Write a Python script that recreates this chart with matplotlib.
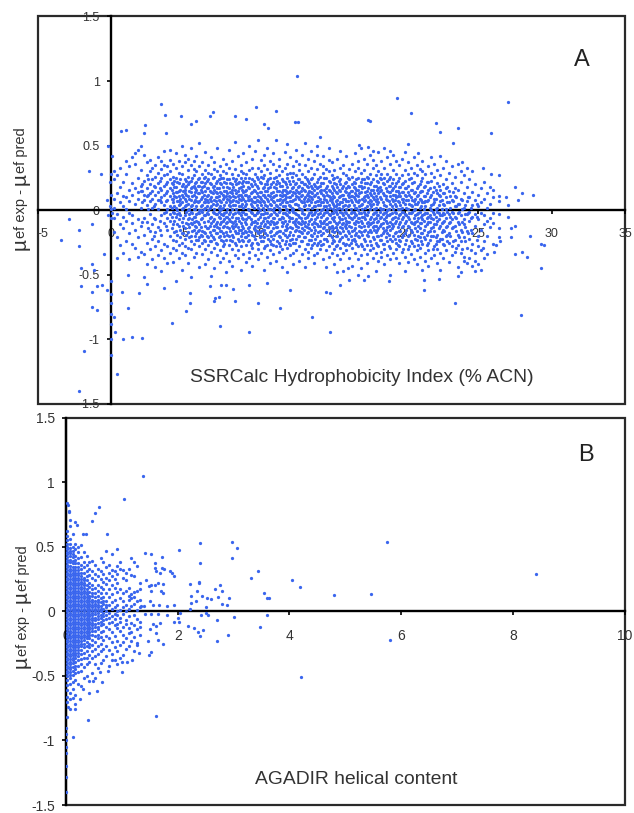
import matplotlib
matplotlib.use('Agg')
import matplotlib.pyplot as plt
from matplotlib.patches import Rectangle

plt.rcParams['font.family'] = ['Liberation Sans', 'DejaVu Sans']

# isolated points
a_sparse_x = [12.68, 3.37, 3.65, 4.75, 5.4, 5.75, 6.7, 6.9, 8.4, 9.2, 9.85, 10.4, 10.7, 11.2, 12.5, 12.7, 0.67, 1.0, 2.3, 2.2, 3.7, -1.5, -0.25, -0.7,
              -3.45, -2.9, -2.2, -1.35, -2.2, -0.5, -2.1, -1.3, -1.15, -2.1, -1.35, -1.0, -0.65, -0.3, -1.3, -1.0, -1.85, -2.2,
              0.0, 0.0, 0.0, 0.0, 0.0, 0.0, 0.0, 0.2, 0.35, 0.25, 0.8, 1.4, 2.1, 0.75, 1.15, 1.1, 1.9, 4.1, 7.4, 9.4, 11.5, 12.15, 10.0, 10.6, 13.7, 8.45, 7.0, 7.05, 7.3,
              5.35, 5.35, 5.1, 6.7, 7.5, 7.8, 8.3, 9.4, 3.6, 4.4, 2.4, 2.2,
              19.43, 27.0, 20.4, 17.5, 17.65, 22.1, 23.6, 22.4, 25.9, 23.3, 20.2, 16.85, 17.5, 17.8, 15.6, 19.0, 20.9, 22.4, 23.9, 25.3, 25.9, 26.4, 27.5, 28.0, 28.7, 27.7, 26.9, 26.4,
              29.3, 27.9, 23.4, 14.9, 14.6, 14.9, 15.6, 16.2, 17.2, 21.3, 18.9, 17.5, 16.8, 15.4, 16.1, 21.3, 22.3, 23.6, 24.8, 25.2, 23.8, 29.3, 29.5, 28.5, 28.3, 28.0, 27.5, 27.2, 27.5, 27.2, 26.4, 26.4, 26.5, 26.2, 26.1, 25.4, 25.3,
              -0.1, 0.0, 0.05, -0.2, 0.0, -0.05, -0.1, 0.0, 0.05, -0.3]
a_sparse_y = [1.04, 0.82, 0.74, 0.73, 0.67, 0.69, 0.73, 0.76, 0.73, 0.71, 0.80, 0.67, 0.64, 0.77, 0.68, 0.68, 0.61, 0.62, 0.66, 0.60, 0.60, 0.30, 0.50, 0.28,
              -0.23, -0.07, -0.15, -0.11, -0.28, -0.34, -0.45, -0.42, -0.46, -0.59, -0.63, -0.59, -0.58, -0.62, -0.75, -0.77, -1.09, -1.40,
              -0.55, -0.65, -0.72, -0.80, -0.88, -1.0, -1.12, -0.83, -1.27, -0.94, -1.0, -0.98, -0.99, -0.63, -0.76, -0.5, -0.64, -0.87, -0.9, -0.94, -0.76, -0.62, -0.72, -0.56, -0.83, -0.7, -0.7, -0.68, -0.67,
              -0.64, -0.72, -0.78, -0.59, -0.58, -0.58, -0.61, -0.58, -0.6, -0.55, -0.57, -0.52,
              0.87, 0.835, 0.75, 0.70, 0.69, 0.675, 0.64, 0.605, 0.6, 0.52, 0.51, 0.505, 0.49, 0.46, 0.46, 0.46, 0.44, 0.42, 0.37, 0.33, 0.28, 0.27, 0.18, 0.13, 0.12, 0.08, 0.1, 0.11,
              -0.45, -0.81, -0.72, -0.94, -0.63, -0.64, -0.58, -0.54, -0.54, -0.62, -0.55, -0.51, -0.5, -0.48, -0.45, -0.54, -0.53, -0.51, -0.47, -0.46, -0.48, -0.26, -0.27, -0.2, -0.36, -0.32, -0.34, -0.21, -0.12, -0.14, -0.14, -0.21, -0.24, -0.27, -0.32, -0.37, -0.29,
              0.03, 0.01, -0.02, -0.04, -0.06, 0.12, 0.22, 0.28, 0.42, 0.08]

# panel A cloud: x -> y readings in hundredths
a_cloud = {
    0.2: [24, 9, -6, -17, 30, 2], 0.4: [13, -3, -21, 27, -37], 0.6: [18, 6, -11, -27, 33], 0.8: [22, -5, -14, 11, 3, -33], 1.0: [28, 10, -8, -24, 38, 1],
    1.2: [16, -2, -18, 34, 7, -38], 1.4: [41, 21, 12, -10, -26, -4], 1.6: [36, 5, -15, -29, 17, 44], 1.8: [9, 25, -7, -21, 47, -36, 14], 2.0: [31, 15, 2, -12, -32, 50, 19],
    2.2: [43, 23, 8, -6, -19, -34, 12], 2.4: [37, 17, 4, -9, -25, -42, 27, 11], 2.6: [30, 13, 20, -3, -16, -30, 39, 7], 2.8: [24, 9, -11, -22, -38, 33, 2, 15], 3.0: [35, 18, 26, 5, -7, -17, -28, -44, 12],
    3.2: [41, 29, 14, 21, 1, -13, -24, -35, 8], 3.4: [16, 32, 6, -4, -19, -31, 25, 10, 38, -47], 3.6: [27, 12, 19, -2, -10, -26, -37, 35, 4, 46], 3.8: [22, 34, 8, 15, -6, -15, -28, -41, 1, 28],
    4.0: [30, 17, 24, 3, -8, -20, -33, 39, 11, -3, 47], 4.2: [13, 26, 6, 20, -11, -23, -29, 36, -1, -40, 9], 4.4: [33, 18, 10, 25, -5, -16, -31, 2, 44, -24, 14],
    4.6: [21, 7, 15, 29, -2, -12, -27, -37, 38, 11, -7, 4], 4.8: [28, 12, 19, 34, 1, -9, -18, -33, 6, -25, 50, -46], 5.0: [16, 24, 9, 37, -4, -14, -22, -35, 3, 13, -28, 43, 18],
    5.2: [31, 20, 5, 11, 26, -7, -17, -29, -41, 0, -11, 40], 5.4: [14, 23, 8, 35, -1, -10, -20, -30, 17, 3, -24, 48, -52], 5.6: [27, 19, 6, 12, 38, -5, -15, -26, -36, 1, -9, 32],
    5.8: [22, 10, 16, 30, 3, -3, -13, -23, -33, -8, 42, -18, 7], 6.0: [34, 25, 13, 7, 19, -2, -11, -21, -28, -44, 0, -15, 52], 6.2: [18, 28, 4, 10, 37, -6, -16, -25, -34, 14, -1, -20, 22],
    6.4: [31, 21, 9, 15, 2, -4, -12, -18, -30, -42, -24, 45, 6, 26], 6.6: [12, 24, 6, 35, 17, -8, -14, -27, -38, 0, -21, -3, 29], 6.8: [20, 10, 28, 3, 14, -5, -10, -19, -32, -51, -24, 41, 7],
    7.0: [26, 16, 8, 37, 1, -7, -15, -22, -29, -45, -2, -12, 19, 32], 7.2: [13, 23, 5, 30, -3, -9, -18, -26, -35, 10, 17, -13, 48], 7.4: [34, 21, 7, 14, 0, -6, -11, -20, -31, -40, -16, 27, 3],
    7.6: [18, 9, 25, 40, 2, -4, -13, -24, -37, -18, -8, 12, 30, -28], 7.8: [29, 15, 6, 21, -1, -10, -17, -23, -33, -48, 11, 36, -5], 8.0: [11, 24, 4, 17, 33, -3, -7, -14, -27, -39, -20, 8, 47],
    8.2: [20, 13, 28, 1, 7, -5, -12, -19, -30, -43, -24, 38, -9, 16], 8.4: [32, 10, 23, 16, -2, -8, -16, -25, -35, 4, -12, 53], 8.6: [15, 6, 27, 21, 42, -1, -6, -13, -22, -31, -18, -37, 11],
    8.8: [25, 12, 3, 35, 18, -4, -10, -20, -28, -46, 8, -15, 30], 9.0: [9, 19, 29, 14, 2, -7, -14, -24, -34, -18, 44, -1, 23], 9.2: [22, 5, 12, 37, -3, -11, -17, -27, -40, -21, 16, 28, -7],
    9.4: [31, 17, 8, 25, 0, -5, -13, -23, -32, 50, 11, -16, -37], 9.6: [14, 24, 3, 19, 40, -2, -9, -19, -29, -43, 7, -25, 33], 9.8: [28, 10, 20, 6, -4, -12, -15, -22, -35, 46, 15, -8],
    10.0: [17, 33, 11, 2, 24, -1, -7, -18, -26, -38, -13, 7, 54, -30], 10.2: [21, 9, 14, 30, -3, -10, -16, -24, -33, 4, -20, 39, 26], 10.4: [12, 27, 6, 18, 43, -6, -12, -21, -29, -46, 0, -15, 35],
    10.6: [23, 15, 3, 9, 32, -2, -8, -19, -27, -36, -13, 20, 48], 10.8: [29, 11, 18, 5, -4, -11, -17, -24, -41, 38, 1, -31, 25], 11.0: [14, 22, 7, 36, 0, -6, -14, -22, -34, -9, 10, 44, -27],
    11.2: [26, 17, 4, 12, 31, -3, -10, -18, -28, -39, 20, -13, 54], 11.4: [8, 21, 15, 27, -1, -7, -16, -25, -32, 2, 40, -20, 34], 11.6: [19, 11, 30, 6, 24, -5, -12, -23, -30, -44, -9, 14],
    11.8: [33, 16, 3, 9, 22, -2, -8, -15, -26, -37, 45, 12, -19], 12.0: [25, 13, 6, 36, 18, -4, -11, -21, -29, -14, 0, 28, 51, -48], 12.2: [10, 20, 29, 3, 15, -6, -13, -17, -27, -35, 41, -23, 7],
    12.4: [23, 8, 14, 34, -1, -9, -19, -25, -33, 1, 18, -42, 29], 12.6: [16, 27, 5, 11, 38, -3, -7, -15, -22, -31, 47, -12, 21], 12.8: [31, 19, 9, 2, 24, -5, -10, -20, -28, -39, 13, -16, 36],
    13.0: [12, 22, 6, 28, 43, -2, -8, -14, -24, -34, 17, -18, 0], 13.2: [26, 15, 4, 10, 35, -6, -12, -21, -30, -44, 20, -9, 52], 13.4: [18, 9, 30, 1, 13, -4, -11, -17, -26, -37, 40, 23, -32],
    13.6: [24, 6, 14, 33, -1, -7, -15, -23, -29, 46, 10, -19, 19], 13.8: [11, 28, 20, 3, -3, -9, -13, -25, -35, 38, 16, -41, -18], 14.0: [22, 32, 7, 13, 0, -5, -11, -20, -27, -33, 50, 17, 43],
    14.2: [15, 26, 9, 4, 36, -2, -8, -16, -24, -30, 19, -12, 57], 14.4: [29, 12, 21, 6, -4, -10, -18, -26, -38, 1, 42, -14, 34], 14.6: [17, 8, 25, 14, -1, -7, -15, -22, -31, -44, 32, 3, -11],
    14.8: [23, 11, 4, 30, 39, -3, -9, -19, -28, -36, 16, -13, 48], 15.0: [13, 27, 19, 6, -2, -6, -12, -21, -33, -25, 9, 37, -16], 15.2: [21, 10, 3, 16, 31, -5, -8, -17, -24, -30, -42, 25, 0],
    15.4: [8, 18, 26, 13, 1, -3, -11, -15, -27, -35, 40, -20, 5], 15.6: [24, 15, 6, 33, -1, -7, -13, -22, -29, 11, -18, 20, -38], 15.8: [12, 29, 19, 3, 9, -4, -10, -16, -25, -33, 35, -47],
    16.0: [22, 7, 14, 27, 1, -2, -8, -14, -20, -31, -26, 42, 17, -11], 16.2: [10, 18, 32, 4, 24, -5, -12, -18, -27, -37, -9, 13], 16.4: [26, 15, 6, 36, -1, -7, -16, -23, -29, 20, 11, -43],
    16.6: [9, 21, 13, 30, 2, -3, -11, -14, -24, -33, 44, -19, 17], 16.8: [25, 6, 16, 38, 0, -6, -9, -20, -28, -38, 11, 33], 17.0: [14, 22, 4, 29, -2, -8, -13, -17, -26, -35, 19, -45, 48],
    17.2: [31, 10, 18, 7, -1, -5, -12, -22, -30, 24, 40, -16], 17.4: [12, 26, 3, 15, 36, -4, -10, -19, -27, -34, -41, 21], 17.6: [20, 8, 28, 13, 1, -7, -15, -24, -31, 43, -11, 5],
    17.8: [16, 24, 5, 33, -3, -9, -13, -21, -29, -37, 10, 39], 18.0: [27, 11, 19, 2, -1, -6, -17, -25, -33, -47, 35, -12, 7], 18.2: [13, 22, 6, 30, -4, -8, -14, -20, -28, -39, 17, 45],
    18.4: [9, 24, 16, 38, 1, -5, -11, -19, -32, -23, 28, -36], 18.6: [20, 12, 4, 33, -2, -7, -16, -26, -30, 25, 48, -42], 18.8: [15, 28, 8, 23, 0, -4, -10, -18, -24, -35, 41, -13],
    19.0: [11, 19, 5, 36, -3, -9, -15, -22, -29, -38, 26, 14, -50], 19.2: [24, 7, 17, 31, 1, -6, -12, -20, -33, 12, 43], 19.4: [10, 21, 3, 28, -2, -8, -17, -25, -37, 15, 38, -30],
    19.6: [18, 6, 13, 35, -4, -11, -16, -23, -28, 25, -41], 19.8: [27, 9, 20, 2, -1, -7, -13, -21, -32, 40, 14], 20.0: [12, 23, 5, 31, -3, -10, -18, -26, -36, 17, 45, -47],
    20.2: [19, 8, 28, 1, -5, -12, -20, -30, 14, 37, -40], 20.4: [10, 25, 4, 16, -2, -9, -15, -24, -34, 33], 20.6: [22, 7, 13, 29, 0, -6, -11, -19, -28, -38, 41], 20.8: [17, 5, 27, -3, -8, -16, -23, -31, 11, -42, 35],
    21.0: [9, 20, 32, 2, -1, -10, -14, -21, -29, 14, -36], 21.2: [25, 6, 15, 38, -4, -7, -18, -26, -46, 30], 21.4: [11, 19, 3, 28, -2, -12, -22, -33, 7, -39], 21.6: [16, 8, 34, -5, -9, -17, -25, -31, 22, -43],
    21.8: [23, 4, 12, 29, 0, -6, -14, -20, -37, 41], 22.0: [18, 9, 26, -3, -11, -16, -28, -35, 6, 36], 22.2: [13, 21, 2, -1, -8, -19, -24, -41, 31, -30], 22.4: [7, 16, 27, -4, -12, -22, -33, 11, -46],
    22.6: [20, 5, 33, -2, -9, -15, -26, -37, 13], 22.8: [10, 24, 1, -6, -13, -20, -31, 17, 38], 23.0: [15, 6, 29, -3, -10, -18, -25, -40], 23.2: [21, 8, -1, -7, -14, -28, -35, 34],
    23.4: [11, 26, 3, -5, -12, -23, -32, 17], 23.6: [16, 5, 36, -2, -9, -19, -27, -44], 23.8: [22, 9, -4, -15, -24, -33, 30], 24.0: [13, 2, 27, -7, -11, -21, -36, -39],
    24.2: [7, 18, -3, -16, -29, -41, 33], 24.4: [24, 10, -1, -8, -22, -37], 24.6: [14, 4, -5, -18, -26, -43, 30], 24.8: [20, 8, -3, -12, -33, -39], 25.0: [12, 3, -7, -20, -28, -42],
    25.2: [17, 6, -2, -15, -31], 25.4: [9, -4, -11, -24, 22], 25.6: [13, 2, -8, -20, -34], 25.8: [5, 18, -6, -13], 26.0: [10, -2, 16, -10, -26], 26.4: [7, -3], 27.0: [-5, 4],
}

# panel A dense core, columns between those above
a_core = {
    2.1: [20, 6, -9, 15], 2.5: [12, 1, -14, 24], 2.9: [19, 3, -6, -20], 3.3: [17, 8, -8, 23, -15], 3.7: [13, -1, 20, 7, -12], 4.1: [21, 9, 2, -5, -14, 16],
    4.3: [18, 11, 3, -8, -17, 23, -2], 4.5: [7, 14, 22, -3, -11, -19, 0], 4.7: [16, 5, 24, 9, -4, -15, -21], 4.9: [10, 20, 2, -6, -12, 15, -18],
    5.1: [19, 7, 12, -1, -10, -19, 23, 4], 5.3: [9, 15, 22, -3, -13, -6, -21, 1], 5.5: [18, 11, 4, -7, -16, 25, -11, -2], 5.7: [14, 8, 21, 1, -12, -20, -5, 17], 5.9: [6, 13, 19, -2, -9, -16, 24, -23],
    6.1: [16, 9, 22, 3, -7, -13, -19, 0], 6.3: [12, 6, 19, -4, -9, -17, 25, -23, 1], 6.5: [17, 11, 3, -2, -14, -20, 23, 8], 6.7: [9, 15, 21, 2, -6, -12, -17, -24], 6.9: [13, 5, 18, 25, -1, -8, -15, -21],
    7.1: [10, 21, 4, -3, -11, -18, -25, 14, 7], 7.3: [17, 8, 2, -5, -14, -21, 24, 11, -1], 7.5: [6, 13, 20, -3, -9, -16, -23, 1, 25], 7.7: [15, 4, 22, -2, -7, -12, -20, 10, -26], 7.9: [9, 18, 1, 24, -5, -13, -19, -9, 13],
    8.1: [14, 6, 21, -1, -8, -16, -23, 3, 10], 8.3: [4, 18, 11, 25, -3, -10, -14, -21, 8], 8.5: [13, 7, 20, 1, -6, -11, -18, -27, 24], 8.7: [9, 17, 3, -2, -8, -15, -24, 22, 12], 8.9: [5, 16, 21, -1, -6, -12, -18, -23, 10],
    9.1: [12, 3, 25, 7, -3, -9, -16, -21, 15], 9.3: [18, 8, 1, -5, -14, -24, -19, 10, 22], 9.5: [5, 13, 20, -1, -7, -11, -17, -27, 9], 9.7: [16, 10, 2, 23, -4, -14, -20, 6, -9], 9.9: [8, 19, 4, -2, -10, -16, -25, 13, 26],
    10.1: [14, 6, 22, 0, -5, -12, -21, -17, 10], 10.3: [7, 17, 2, 12, -8, -15, -24, -3, 25], 10.5: [10, 20, 4, -2, -11, -18, -6, -28, 15], 10.7: [17, 7, 1, 24, -5, -13, -22, 12, -9], 10.9: [4, 13, 20, -3, -8, -16, -26, 9, -20],
    11.1: [11, 18, 2, -1, -11, -19, -6, 25, 6], 11.3: [15, 8, 23, -4, -9, -13, -24, 3, -17], 11.5: [5, 12, 19, 0, -7, -16, -21, 9, -28], 11.7: [16, 3, 23, -2, -10, -18, 8, -6, 12], 11.9: [10, 6, 20, -3, -12, -15, -24, 1, 15],
    12.1: [14, 4, 23, -1, -8, -19, -5, 10, -26], 12.3: [7, 17, 12, 0, -6, -14, -22, 2, 26], 12.5: [13, 20, 5, -2, -11, -16, -8, -25, 9], 12.7: [4, 10, 18, -4, -9, -13, -20, 24, 14], 12.9: [7, 15, 22, 1, -6, -17, -24, -11, 11],
    13.1: [16, 9, 3, -3, -10, -21, -15, 20, 6], 13.3: [12, 19, 1, -5, -13, -18, -26, 7, 24], 13.5: [4, 15, 8, 21, -2, -8, -14, -23, 11], 13.7: [17, 2, 9, -4, -11, -20, -27, 13, 25], 13.9: [6, 12, 19, -1, -7, -15, -22, 3, -10],
    14.1: [10, 18, 4, -3, -12, -17, -25, 24, 7], 14.3: [13, 6, 21, 0, -5, -10, -19, -27, 16], 14.5: [3, 9, 16, 25, -2, -8, -13, -22, 11], 14.7: [19, 12, 6, -1, -6, -16, -24, 1, -11], 14.9: [8, 15, 2, 22, -4, -9, -19, -14, 10],
    15.1: [5, 11, 17, -2, -7, -14, -23, 24, 1], 15.3: [14, 7, 20, -1, -10, -13, -20, -28, 3], 15.5: [10, 2, 16, 23, -5, -9, -17, -24, 5], 15.7: [17, 6, 12, -2, -7, -11, -21, 1, -14], 15.9: [4, 9, 15, 21, -1, -12, -19, -27, -6],
    16.1: [12, 3, 19, 7, -4, -9, -16, -22, 25], 16.3: [15, 8, 1, -2, -6, -13, -20, -25, 11], 16.5: [4, 10, 22, -1, -10, -15, -5, -22, 18], 16.7: [7, 16, 2, -4, -8, -18, -26, 12, 24], 16.9: [13, 19, 3, -2, -12, -16, -21, 8, -6],
    17.1: [9, 5, 17, 24, -5, -10, -19, -28, 1], 17.3: [14, 2, 21, -3, -7, -15, -24, 8, 11], 17.5: [6, 17, 10, -1, -12, -20, -9, 25, -17], 17.7: [12, 3, 22, -5, -10, -17, -27, 7, 16], 17.9: [9, 19, 1, -2, -7, -12, -22, 13, -15],
    18.1: [5, 16, 23, -4, -9, -15, -20, 9, -27], 18.3: [10, 2, 18, -1, -6, -12, -23, 15, 25], 18.5: [13, 6, 21, -3, -10, -14, -26, 1, -18], 18.7: [3, 9, 17, -1, -8, -15, -21, 11, -5], 18.9: [7, 14, 24, -4, -12, -19, -28, 1, 19],
    19.1: [9, 3, 16, -2, -7, -14, -24, 21, -11], 19.3: [12, 5, -1, -5, -10, -18, -22, 19, 8], 19.5: [7, 15, 23, 1, -6, -13, -27, -20, 11], 19.7: [4, 11, 18, -3, -9, -16, -24, 1], 19.9: [14, 6, 21, -1, -5, -12, -19, -30, 9],
    20.1: [8, 2, 17, -4, -8, -15, -23, 11], 20.3: [12, 5, 24, -2, -7, -13, -19, -28], 20.5: [3, 16, 8, -1, -10, -17, -25, 21], 20.7: [9, 14, 1, -4, -9, -14, -22, 5], 20.9: [6, 12, 19, -2, -6, -12, -20, -27],
    21.1: [3, 15, 8, -5, -10, -18, -24, 23], 21.3: [11, 1, 18, -3, -8, -15, -21, 6], 21.5: [7, 13, 22, -2, -6, -11, -19, -27], 21.7: [2, 10, 17, -4, -9, -16, -23], 21.9: [5, 14, -1, -7, -13, -20, -30],
    22.1: [9, 1, 16, -5, -11, -21, -26], 22.3: [4, 12, -2, -7, -14, -24, 19], 22.5: [8, 1, -4, -10, -17, -22], 22.7: [13, 4, -3, -8, -16, -27], 22.9: [6, 18, -1, -12, -19, -24],
    23.1: [2, 11, -5, -9, -20], 23.3: [7, -2, -13, -24, 14], 23.5: [3, 10, -6, -16, -29], 23.7: [5, -1, -11, -21], 23.9: [1, 8, -9, -17, -30],
    24.1: [4, -3, -13, -24], 24.3: [10, -2, -18], 24.5: [2, -6, -15, -31], 24.9: [5, -5, -23],
}

# isolated points
b_sparse_x = [1.37, 1.03, 0.585, 0.52, 0.47, 0.73, 0.3, 0.36, 0.19, 0.16, 0.91, 1.42, 1.52, 1.72, 2.02, 2.4, 2.98, 3.06, 2.97, 2.4, 3.32, 3.43, 3.55, 3.6, 3.63, 4.04, 4.19, 3.6, 3.48, 3.01, 2.9, 2.7, 4.2, 1.62, 0.4, 0.12,
              2.22, 2.39, 2.39, 2.35, 2.44, 2.23, 2.23, 2.33, 2.22, 2.5, 2.53, 2.59, 2.67, 2.75, 2.8, 2.72, 2.91, 2.79, 2.88, 2.42, 2.51, 2.55, 2.7, 1.94, 2.01, 2.18, 2.29, 2.46, 2.37, 2.4, 1.93, 2.04, 2.02,
              1.71, 1.6, 1.6, 1.62, 1.76, 1.87, 1.9, 1.93, 1.68, 1.43, 1.49, 1.53, 1.59, 1.65, 1.73, 1.52, 1.7, 1.73, 1.5, 1.55, 1.67, 1.8, 1.39, 1.35,
              1.41, 1.53, 1.65, 1.8, 1.68, 1.56, 1.62, 1.5, 1.62, 1.74, 1.65, 1.46, 1.28, 1.52, 1.49, 1.31, 1.19, 1.01, 1.09, 1.0, 0.92, 0.83, 0.76, 0.61, 0.64, 0.55, 0.49, 0.41, 0.31, 0.25, 0.16, 0.16,
              4.79, 5.46, 5.75, 5.81, 8.42,
              0.0, 0.0, 0.0, 0.0, 0.0, 0.0, 0.0, 0.0, 0.02, 0.03, 0.05, 0.06, 0.02, 0.04]
b_sparse_y = [1.05, 0.87, 0.81, 0.76, 0.695, 0.6, 0.6, 0.6, 0.67, 0.69, 0.485, 0.45, 0.44, 0.42, 0.475, 0.53, 0.535, 0.49, 0.41, 0.375, 0.255, 0.315, 0.14, 0.1, 0.1, 0.24, 0.19, -0.03, -0.125, -0.045, -0.185, -0.23, -0.51, -0.81, -0.84, -0.975,
              0.21, 0.23, 0.215, 0.16, 0.12, 0.115, 0.065, 0.08, 0.02, 0.035, 0.1, 0.095, 0.17, 0.205, 0.155, 0.11, 0.1, 0.06, 0.05, -0.03, -0.015, -0.03, -0.065, -0.08, -0.05, -0.115, -0.13, -0.147, -0.16, -0.19, 0.05, -0.01, -0.08,
              0.335, 0.37, 0.335, 0.315, 0.33, 0.315, 0.3, 0.27, 0.3, 0.245, 0.195, 0.2, 0.2, 0.22, 0.21, 0.155, 0.155, 0.14, 0.08, 0.05, 0.045, 0.04, 0.04, 0.04,
              -0.025, -0.025, -0.025, -0.03, -0.09, -0.1, -0.115, -0.14, -0.17, -0.25, -0.22, -0.23, -0.245, -0.315, -0.335, -0.32, -0.375, -0.47, -0.39, -0.39, -0.41, -0.375, -0.46, -0.47, -0.55, -0.62, -0.54, -0.63, -0.605, -0.68, -0.76, -0.72,
              0.125, 0.135, 0.54, -0.22, 0.29,
              -0.9, -0.95, -1.0, -1.05, -1.1, -1.2, -1.28, -1.4, 0.84, 0.82, 0.77, 0.78, -0.82, -0.74]

# panel B wedge: x -> y readings in hundredths
b_cloud = {
    0.02: [62, 58, 55, 52, 50, 48, 46, 44, 42, 40, 38, 36, 34, 32, 30, 28, 26, 24, 22, 20, 18, 16, 14, 12, 10, 8, 6, 4, 2, 0, -2, -4, -6, -8, -10, -12, -14, -16, -18, -20, -22, -24, -26, -28, -30, -32, -34, -36, -38, -40, -42, -44, -46, -48, -50, -53, -57, -61, -66, -70],
    0.07: [71, 66, 56, 52, 49, 47, 45, 43, 40, 38, 35, 33, 31, 29, 27, 25, 23, 21, 19, 17, 15, 13, 11, 9, 7, 5, 3, 1, -1, -3, -5, -7, -9, -11, -13, -15, -17, -19, -21, -23, -25, -27, -29, -31, -33, -35, -37, -39, -41, -43, -45, -47, -49, -52, -56, -63, -68, -76],
    0.12: [60, 50, 47, 44, 42, 39, 37, 34, 32, 30, 28, 26, 24, 22, 20, 18, 16, 14, 12, 10, 8, 6, 4, 2, 0, -2, -4, -6, -8, -10, -12, -14, -16, -18, -20, -22, -24, -26, -28, -30, -32, -34, -36, -38, -40, -43, -46, -49, -55, -60, -67],
    0.17: [52, 48, 43, 40, 37, 34, 32, 30, 28, 26, 24, 22, 20, 18, 16, 14, 12, 10, 8, 6, 4, 2, 0, -2, -4, -6, -8, -10, -12, -14, -16, -18, -20, -22, -24, -26, -28, -30, -32, -34, -36, -39, -42, -45, -48, -53, -65],
    0.22: [50, 46, 41, 37, 34, 32, 30, 28, 26, 24, 22, 20, 18, 16, 14, 12, 10, 8, 6, 4, 2, 0, -2, -4, -6, -8, -10, -12, -14, -16, -18, -20, -22, -24, -26, -28, -30, -32, -35, -38, -42, -47, -56],
    0.27: [51, 42, 36, 33, 30, 27, 25, 23, 21, 19, 17, 15, 13, 11, 9, 7, 5, 3, 1, -1, -3, -5, -7, -9, -11, -13, -15, -17, -19, -21, -23, -25, -27, -30, -33, -37, -41, -46, -58],
    0.32: [46, 38, 34, 30, 26, 24, 22, 20, 18, 16, 14, 12, 10, 8, 6, 4, 2, 0, -2, -4, -6, -8, -10, -12, -14, -16, -18, -20, -22, -25, -28, -32, -36, -43, -52],
    0.37: [43, 36, 31, 27, 24, 20, 17, 15, 13, 11, 9, 7, 5, 3, 1, -1, -3, -5, -7, -9, -11, -13, -15, -17, -19, -21, -24, -27, -31, -36, -41, -50],
    0.42: [38, 33, 28, 22, 19, 15, 12, 10, 8, 6, 4, 2, 0, -2, -4, -6, -8, -10, -12, -14, -16, -18, -21, -25, -28, -34, -39, -54],
    0.47: [39, 31, 26, 20, 17, 14, 12, 9, 7, 5, 3, 1, -1, -3, -5, -7, -9, -11, -13, -15, -18, -22, -26, -31, -36, -48],
    0.52: [36, 29, 24, 18, 14, 11, 8, 6, 4, 2, 0, -2, -5, -7, -10, -12, -15, -19, -24, -29, -35, -41, -52],
    0.57: [33, 27, 20, 16, 12, 9, 7, 5, 3, 1, -1, -4, -6, -9, -12, -14, -18, -21, -27, -33, -44],
    0.62: [41, 31, 25, 19, 14, 10, 7, 4, 2, 0, -3, -5, -8, -11, -16, -20, -25, -31, -40],
    0.67: [38, 29, 23, 17, 11, 8, 6, 2, -1, -4, -7, -10, -15, -22, -29, -38],
    0.72: [47, 34, 26, 21, 14, 8, 5, 3, 0, -3, -6, -12, -19, -27, -35],
    0.77: [36, 30, 24, 17, 11, 5, -1, -5, -9, -14, -21, -30, -42],
    0.82: [44, 32, 27, 20, 13, 7, 2, -4, -8, -16, -24, -33],
    0.87: [31, 25, 18, 9, 3, -2, -6, -11, -19, -28, -38],
    0.92: [35, 29, 22, 15, 5, 0, -3, -10, -13, -23, -31],
    0.97: [38, 33, 17, 10, 1, -5, -8, -15, -26, -36],
    1.02: [32, 26, 14, 8, 3, -2, -12, -18, -24, -34],
    1.07: [30, 24, 16, 5, 0, -7, -10, -21, -29],
    1.12: [33, 18, 12, 9, 2, -4, -13, -17, -27],
    1.17: [41, 28, 10, 13, 4, -9, -16, -23],
    1.22: [38, 27, 15, 11, 6, -3, -11, -20, -31],
    1.27: [35, 16, 8, 1, -6, -14, -26],
    1.32: [22, 17, 9, 3, -8, -12, -18],
}

letters = ['A', 'B']
a_xlabel = 'SSRCalc Hydrophobicity Index (% ACN)'
b_xlabel = 'AGADIR helical content'
y_ticks = [-1.5, -1, -0.5, 0, 0.5, 1, 1.5]
y_tick_labels = ['-1.5', '-1', '-0.5', '0', '0.5', '1', '1.5']
a_x_ticks = [-5, 0, 5, 10, 15, 20, 25, 30, 35]
b_x_ticks = [0, 2, 4, 6, 8, 10]

W, H = 634, 813
DOT = '#3a66ee'
TXT = '#333333'


def expand(cloud):
    xs, ys = [], []
    for x, vals in cloud.items():
        for v in vals:
            xs.append(x)
            ys.append(v / 100)
    return xs, ys


def panel(box, xlim, xticks, xs, ys, xlabel, label_pos, letter, letter_pos, size, ypad):
    l, t, r, b = box
    ax = fig.add_axes([l / W, 1 - b / H, (r - l) / W, (b - t) / H])
    ax.set_xlim(xlim)
    ax.set_ylim(-1.5, 1.5)
    ax.patch.set_alpha(0)
    ax.spines['left'].set_position('zero')
    ax.spines['bottom'].set_position('zero')
    ax.spines['top'].set_visible(False)
    ax.spines['right'].set_visible(False)
    ax.spines['left'].set_linewidth(1.7)
    ax.spines['bottom'].set_linewidth(1.7)
    ax.spines['left'].set_zorder(2)
    ax.spines['bottom'].set_zorder(2)
    ax.add_patch(Rectangle((0, 0), 1, 1, transform=ax.transAxes, fill=False, ec='#2a2a2a', lw=1.6, clip_on=False, zorder=1))
    ax.set_xticks(xticks)
    ax.set_xticklabels([str(v) for v in xticks])
    ax.set_yticks(y_ticks)
    ax.set_yticklabels(y_tick_labels)
    ax.tick_params(axis='x', length=3, width=1.2, pad=10, labelsize=size, labelcolor=TXT)
    ax.tick_params(axis='y', length=3, width=1.2, pad=ypad, labelsize=size, labelcolor=TXT)
    ax.scatter(xs, ys, s=5.5, c=DOT, linewidths=0, zorder=3)
    fig.text(label_pos[0] / W, 1 - label_pos[1] / H, xlabel, fontsize=13.85, color=TXT, ha='left', va='center')
    fig.text(letter_pos[0] / W, 1 - letter_pos[1] / H, letter, fontsize=17, color='#222222', ha='center', va='center')
    return ax


def mu_label(x_px, y_px):
    # big mu with smaller text, stacked upward along the axis
    fig.canvas.draw()
    rend = fig.canvas.get_renderer()
    y = y_px
    for s, fs in [('\u00b5', 15), ('ef exp - ', 10.5), ('\u00b5', 15), ('ef pred', 10.5)]:
        t = fig.text(x_px / W, 1 - y / H, s, rotation=90, fontsize=fs, color=TXT, ha='left', va='baseline', rotation_mode='anchor')
        y -= t.get_window_extent(rend).height


fig = plt.figure(figsize=(W / 100, H / 100), dpi=100, facecolor='white')

ax_xs, ax_ys = expand(a_cloud)
core_xs, core_ys = expand(a_core)
ax_a = panel((38, 16.5, 625, 404), (-5, 35), a_x_ticks, a_sparse_x + ax_xs + core_xs, a_sparse_y + ax_ys + core_ys, a_xlabel, (190, 378), letters[0], (582, 60), 9, 5.5)
ax_a.get_xticklabels()[0].set_ha('left')

bx_xs, bx_ys = expand(b_cloud)
ax_b = panel((66, 417.5, 624.5, 805), (0, 10), b_x_ticks, b_sparse_x + bx_xs, b_sparse_y + bx_ys, b_xlabel, (255, 779), letters[1], (586, 455), 10, 5)

mu_label(25.5, 250)
mu_label(27, 668)

fig.savefig('out.png', dpi=100)
